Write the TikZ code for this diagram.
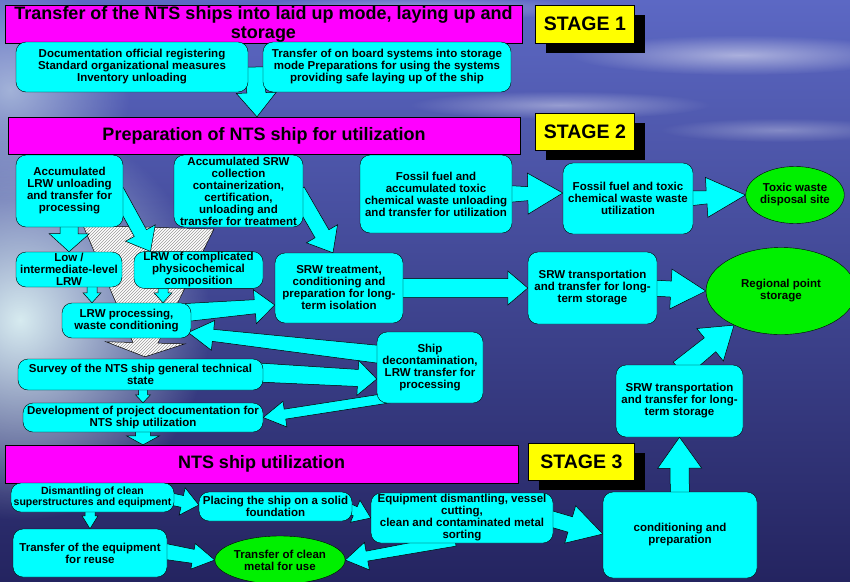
\documentclass[tikz,border=0pt]{standalone}
\usepackage{fontspec}
\setmainfont{Liberation Sans}
\usetikzlibrary{positioning,calc,shapes.geometric,shadows,patterns,fadings}

\pgfdeclarelayer{sky}
\pgfdeclarelayer{arrows}
\pgfsetlayers{sky,arrows,main}

\tikzfading[name=nuvola, inner color=transparent!0, outer color=transparent!100]

\definecolor{skytop}{RGB}{92,104,196}
\definecolor{skymid}{RGB}{62,72,162}
\definecolor{seabottom}{RGB}{36,36,96}
\definecolor{haze}{RGB}{215,235,240}
\definecolor{boxcyan}{RGB}{0,255,255}
\definecolor{headmag}{RGB}{255,0,255}
\definecolor{tagyellow}{RGB}{255,255,0}
\definecolor{sitegreen}{RGB}{0,240,0}

\tikzset{
  stagehead/.style={draw=black, fill=headmag, inner sep=0pt, align=center,
    font=\bfseries\fontsize{18}{19}\selectfont},
  stagetag/.style={draw=black, fill=tagyellow, inner sep=0pt,
    font=\bfseries\fontsize{19.5}{20}\selectfont,
    drop shadow={shadow xshift=11pt, shadow yshift=-10pt, fill=black, opacity=1}},
  procbox/.style={draw=black, fill=boxcyan, rounded corners=10pt, inner sep=1pt,
    align=center, font=\bfseries\fontsize{11.5}{12}\selectfont},
  sitebox/.style={ellipse, draw=black, fill=sitegreen, inner sep=0pt, align=center,
    font=\bfseries\fontsize{11.5}{12}\selectfont},
  fatline/.style={draw=black, fill=boxcyan, line width=0.5pt, line join=miter},
  hatchfill/.style={fill=white, pattern=north east lines, pattern color=gray!80,
    preaction={fill=white}}
}

% freccia piena: stile, da, a, mezza coda, mezzo collo, mezza punta, lunghezza punta
\newcommand{\fatarrow}[7][]{%
  \path (#2) coordinate (fa-a) (#3) coordinate (fa-b);
  \path ($(fa-b)!#7!(fa-a)$) coordinate (fa-n);
  \filldraw[fatline,#1] ($(fa-a)!#4!90:(fa-b)$) -- ($(fa-n)!#5!90:(fa-b)$)
    -- ($(fa-n)!#6!90:(fa-b)$) -- (fa-b) -- ($(fa-n)!#6!-90:(fa-b)$)
    -- ($(fa-n)!#5!-90:(fa-b)$) -- ($(fa-a)!#4!-90:(fa-b)$) -- cycle;
}

\begin{document}
\begin{tikzpicture}[x=1pt, y=-1pt]
  \useasboundingbox (0,0) rectangle (850,581);

  % Fase 1
  \node[stagehead, minimum width=517pt, minimum height=38pt] (s1head) at (263.5,24)
    {Transfer of the NTS ships into laid up mode, laying up and\\storage};
  \node[stagetag, minimum width=99pt, minimum height=38pt, right=13pt of s1head] (tag1) {STAGE 1};
  \node[procbox, minimum width=232pt, minimum height=50pt] (doc) at (132,67)
    {Documentation official registering\\Standard organizational measures\\Inventory unloading};
  \node[procbox, minimum width=248pt, minimum height=50pt] (sys) at (387,67)
    {Transfer of on board systems into storage\\mode Preparations for using the systems\\providing safe laying up of the ship};

  % Fase 2
  \node[stagehead, minimum width=512pt, minimum height=37pt] (s2head) at (264,135.5)
    {Preparation of NTS ship for utilization};
  \node[stagetag, minimum width=99pt, minimum height=37pt, right=15pt of s2head, yshift=4pt] (tag2) {STAGE 2};
  \node[procbox, minimum width=107pt, minimum height=72pt] (accLRW) at (69.5,191)
    {Accumulated\\LRW unloading\\and transfer for\\processing};
  \node[procbox, minimum width=129pt, minimum height=72pt] (accSRW) at (238.5,191)
    {Accumulated SRW\\collection\\containerization,\\certification,\\unloading and\\transfer for treatment};
  \node[procbox, minimum width=152pt, minimum height=78pt] (fossil) at (436,194)
    {Fossil fuel and\\accumulated toxic\\chemical waste unloading\\and transfer for utilization};
  \node[procbox, minimum width=130pt, minimum height=71pt] (fuelUtil) at (628,198.5)
    {Fossil fuel and toxic\\chemical waste waste\\utilization};
  \node[sitebox, minimum width=97pt, minimum height=57pt] (toxic) at (795,195)
    {Toxic waste\\disposal site};
  \node[procbox, minimum width=106pt, minimum height=35pt] (lowLRW) at (69,269.5)
    {Low /\\intermediate-level\\LRW};
  \node[procbox, minimum width=129pt, minimum height=36pt] (complexLRW) at (198.5,270)
    {LRW of complicated\\physicochemical\\composition};
  \node[procbox, minimum width=128pt, minimum height=70pt] (srwTreat) at (339,288)
    {SRW treatment,\\conditioning and\\preparation for long-\\term isolation};
  \node[procbox, minimum width=129pt, minimum height=72pt] (srwTrans) at (592.5,288)
    {SRW transportation\\and transfer for long-\\term storage};
  \node[sitebox, minimum width=150pt, minimum height=87pt] (regional) at (781,291)
    {Regional point\\storage};
  \node[procbox, minimum width=129pt, minimum height=35pt] (lrwProc) at (126.5,320.5)
    {LRW processing,\\waste conditioning};
  \node[procbox, minimum width=106pt, minimum height=71pt] (shipDecon) at (430,367.5)
    {Ship\\decontamination,\\LRW transfer for\\processing};
  \node[procbox, minimum width=245pt, minimum height=31pt] (survey) at (140.5,374.5)
    {Survey of the NTS ship general technical\\state};
  \node[procbox, minimum width=240pt, minimum height=29pt] (projDoc) at (143,417.5)
    {Development of project documentation for\\NTS ship utilization};
  \node[procbox, minimum width=127pt, minimum height=72pt] (srwTrans2) at (679.5,401)
    {SRW transportation\\and transfer for long-\\term storage};

  % Fase 3
  \node[stagehead, minimum width=513pt, minimum height=38pt] (s3head) at (261.5,464)
    {NTS ship utilization};
  \node[stagetag, minimum width=106pt, minimum height=37pt, right=10pt of s3head, yshift=2.5pt] (tag3) {STAGE 3};
  \node[procbox, minimum width=163pt, minimum height=29pt,
    font=\bfseries\fontsize{10.5}{11}\selectfont] (dismantle) at (92.5,497.5)
    {Dismantling of clean\\superstructures and equipment};
  \node[procbox, minimum width=153pt, minimum height=29pt] (placing) at (275.5,506.5)
    {Placing the ship on a solid\\foundation};
  \node[procbox, minimum width=182pt, minimum height=50pt] (cutting) at (462,518)
    {Equipment dismantling, vessel\\cutting,\\clean and contaminated metal\\sorting};
  \node[procbox, minimum width=154pt, minimum height=86pt] (condPrep) at (680,535)
    {conditioning and\\preparation};
  \node[procbox, minimum width=154pt, minimum height=48pt] (reuse) at (90,553)
    {Transfer of the equipment\\for reuse};
  \node[sitebox, minimum width=128pt, minimum height=48pt] (cleanMetal) at (280,560)
    {Transfer of clean\\metal for use};

  % Cielo e mare
  \begin{pgfonlayer}{sky}
    \shade[top color=skytop, middle color=skymid, bottom color=seabottom] (0,0) rectangle (850,581);
    \fill[haze, path fading=nuvola] (20,320) ellipse [x radius=190, y radius=200];
    \fill[haze, opacity=0.6, path fading=nuvola] (10,90) ellipse [x radius=120, y radius=110];
    \fill[white, opacity=0.5, path fading=nuvola] (740,55) ellipse [x radius=170, y radius=20];
    \fill[white, opacity=0.4, path fading=nuvola] (560,105) ellipse [x radius=150, y radius=14];
    \fill[white, opacity=0.35, path fading=nuvola] (420,8) ellipse [x radius=180, y radius=12];
    \fill[white, opacity=0.3, path fading=nuvola] (780,130) ellipse [x radius=120, y radius=12];
  \end{pgfonlayer}

  % Frecce
  \begin{pgfonlayer}{arrows}
    \coordinate (funneltop) at ($(accLRW.south east)!0.5!(accSRW.south west)$);
    \fatarrow[hatchfill]{funneltop}{[xshift=4.5pt,yshift=2pt]survey.north}{65.5pt}{12.5pt}{39.5pt}{14pt}
    \fatarrow{$(doc.east)!0.5!(sys.west)$}{[xshift=-7pt]s2head.north}{9.5pt}{9.5pt}{20pt}{24pt}
    \fatarrow{accLRW.center}{lowLRW.north}{9pt}{9pt}{20pt}{18pt}
    \fatarrow{[xshift=-6pt]accLRW.east}{[xshift=-48pt]complexLRW.north}{7pt}{7pt}{17pt}{21pt}
    \fatarrow{[xshift=-6pt]accSRW.east}{[xshift=-6pt]srwTreat.north}{8pt}{8pt}{18pt}{22pt}
    \fatarrow{[xshift=23pt]lowLRW.center}{[xshift=-34.5pt]lrwProc.north}{5pt}{5pt}{9pt}{10pt}
    \fatarrow{[xshift=-35.5pt]complexLRW.center}{[xshift=36.5pt]lrwProc.north}{5pt}{5pt}{9pt}{10pt}
    \fatarrow{[xshift=-5pt,yshift=8pt]lrwProc.east}{[yshift=-17pt]srwTreat.west}{9pt}{7pt}{17pt}{20pt}
    \fatarrow{[xshift=8pt,yshift=12.5pt]shipDecon.west}{[xshift=-3pt,yshift=-12pt]lrwProc.east}{9pt}{6pt}{15pt}{25pt}
    \fatarrow{[xshift=-5pt,yshift=2pt]survey.east}{[yshift=-11.5pt]shipDecon.west}{9.5pt}{8.5pt}{17.5pt}{19pt}
    \fatarrow{[xshift=15pt,yshift=-30pt]shipDecon.west}{projDoc.east}{5pt}{5pt}{13pt}{22pt}
    \fatarrow{[xshift=2.5pt]survey.center}{projDoc.north}{4.5pt}{4.5pt}{7.5pt}{8pt}
    \fatarrow{projDoc.center}{[xshift=-118.5pt]s3head.north}{7.5pt}{7.5pt}{16.5pt}{9pt}
    \fatarrow{[xshift=-5pt]fossil.east}{[yshift=5.5pt]fuelUtil.west}{8.5pt}{7pt}{20.5pt}{35pt}
    \fatarrow{[xshift=-5pt]fuelUtil.east}{toxic.west}{7.5pt}{6.5pt}{20pt}{39pt}
    \fatarrow{[xshift=-5pt]srwTreat.east}{srwTrans.west}{9.5pt}{9.5pt}{17pt}{20pt}
    \fatarrow{[xshift=-5pt]srwTrans.east}{regional.west}{8pt}{8pt}{20pt}{35pt}
    \fatarrow{[yshift=-5pt]srwTrans2.north}{regional.216}{10pt}{9pt}{21pt}{31pt}
    \fatarrow{condPrep.center}{srwTrans2.south}{9.5pt}{9.5pt}{22pt}{31pt}
    \fatarrow{[xshift=-10pt]dismantle.east}{[yshift=1.5pt]placing.west}{6pt}{6pt}{14pt}{17pt}
    \fatarrow{[xshift=-8pt]placing.east}{cutting.west}{5pt}{5pt}{12pt}{17pt}
    \fatarrow{[xshift=-2.5pt]dismantle.center}{reuse.north}{5pt}{5pt}{8pt}{13pt}
    \fatarrow{[xshift=-5pt,yshift=2pt]reuse.east}{cleanMetal.west}{8pt}{7pt}{13pt}{22pt}
    \fatarrow{[xshift=-7pt,yshift=3pt]cutting.south}{cleanMetal.east}{6pt}{5pt}{14pt}{22pt}
    \fatarrow{[xshift=-5pt]cutting.east}{[yshift=1pt]condPrep.west}{8pt}{8pt}{19.5pt}{34pt}
  \end{pgfonlayer}
\end{tikzpicture}
\end{document}
